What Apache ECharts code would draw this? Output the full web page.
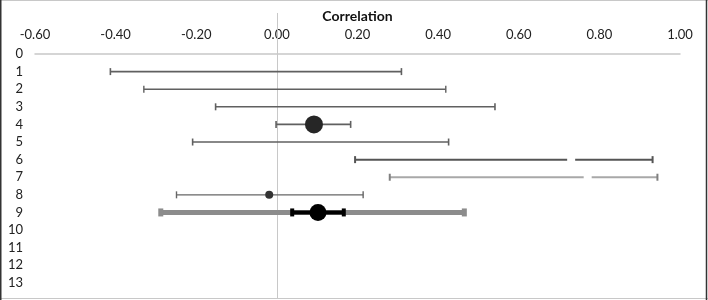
<!DOCTYPE html>
<html>
<head>
<meta charset="utf-8">
<script src="https://cdn.jsdelivr.net/npm/echarts@6/dist/echarts.min.js"></script>
<style>html,body{margin:0;padding:0;background:#fff;}#c{width:708px;height:300px;}</style>
</head>
<body>
<div id="c"></div>
<script>
// ---- data ----
var rowLabels = [0,1,2,3,4,5,6,7,8,9,10,11,12,13];
var rows   = [1, 2, 3, 4, 5, 6, 7, 8, 9];
var lower  = [-0.413, -0.330, -0.152, -0.002, -0.209, 0.194, 0.280, -0.249, -0.288];
var upper  = [0.309, 0.419, 0.541, 0.183, 0.426, 0.932, 0.944, 0.214, 0.465];
var innerRow = [9];
var innerLower = [0.038];
var innerUpper = [0.166];
var pointRows = [4, 8, 9];
var pointVals = [0.092, -0.019, 0.102];
var gapRows = [6, 7];
var gapVals = [0.730, 0.771];
var refLine = [[0, -2.33], [0, 13.86]];

// ---- styles ----
var barColor = ['#606060','#606060','#606060','#606060','#606060','#555555','#a8a8a8','#666666','#8c8c8c'];
var capColor = ['#606060','#606060','#606060','#606060','#606060','#555555','#808080','#666666','#8c8c8c'];
var barWidth = [1.6,1.4,1.6,1.6,1.6,2,2,1.4,5];
var capH     = [7,7,7,7,7,7,7,7,8];
var capW     = [1.6,1.4,1.6,1.6,1.6,2,2,1.4,5];
var innerColor = '#000000';
var pointSize = [18, 8, 17];
var pointColor = ['#262626', '#333333', '#000000'];

function errData(r, lo, hi){ return r.map(function(v,i){ return [lo[i], hi[i], v, i]; }); }

function makeRender(colors, capColors, widths, capHs, capWs){
  return function(params, api){
    var i = api.value(3);
    var p1 = api.coord([api.value(0), api.value(2)]);
    var p2 = api.coord([api.value(1), api.value(2)]);
    var h = capHs[i]/2, cw = capWs[i];
    return {type:'group', children:[
      {type:'line', shape:{x1:p1[0], y1:p1[1], x2:p2[0], y2:p2[1]}, style:{stroke:colors[i], lineWidth:widths[i]}},
      {type:'rect', shape:{x:p1[0]-cw/2, y:p1[1]-h, width:cw, height:h*2}, style:{fill:capColors[i]}},
      {type:'rect', shape:{x:p2[0]-cw/2, y:p2[1]-h, width:cw, height:h*2}, style:{fill:capColors[i]}}
    ]};
  };
}

var chart = echarts.init(document.getElementById('c'), null, {renderer:'canvas'});
var font = 'Lato, "Liberation Sans", sans-serif';
chart.setOption({
  animation:false,
  grid:{left:35, right:28, top:54, bottom:2, containLabel:false},
  xAxis:{
    type:'value', position:'top', min:-0.6, max:1.0, interval:0.2,
    axisLine:{show:true, onZero:false, lineStyle:{color:'#c8c8c8', width:1.5}},
    axisTick:{show:false}, splitLine:{show:false},
    axisLabel:{margin:13, fontSize:13, color:'#222', fontFamily:font,
      formatter:function(v){ return (Math.abs(v)<1e-9?0:v).toFixed(2); }}
  },
  yAxis:{
    type:'value', inverse:true, min:0, max:13.86,
    axisLine:{show:false}, axisTick:{show:false}, splitLine:{show:false},
    axisLabel:{customValues:rowLabels, fontSize:13, color:'#222', fontFamily:font, align:'right', margin:12,
      formatter:function(v){ return String(Math.round(v)); }}
  },
  graphic:[
    {type:'text', x:357.5, y:16, style:{text:'Correlation', font:'bold 14px '+font, fill:'#111', align:'center', verticalAlign:'middle'}},
    {type:'line', shape:{x1:0, y1:0.5, x2:708, y2:0.5}, style:{stroke:'#c8c8c8', lineWidth:1}},
    {type:'line', shape:{x1:0, y1:298.5, x2:708, y2:298.5}, style:{stroke:'#c8c8c8', lineWidth:1}},
    {type:'line', shape:{x1:0.75, y1:0, x2:0.75, y2:300}, style:{stroke:'#333', lineWidth:1.5}},
    {type:'line', shape:{x1:706.5, y1:0, x2:706.5, y2:300}, style:{stroke:'#333', lineWidth:1.5}}
  ],
  series:[
    {type:'custom', clip:false, silent:true, z:1,
      renderItem:function(params, api){
        var a = api.coord([refLine[0][0], refLine[0][1]]);
        var b = api.coord([refLine[1][0], refLine[1][1]]);
        return {type:'line', shape:{x1:Math.round(a[0])+0.5, y1:a[1], x2:Math.round(b[0])+0.5, y2:b[1]}, style:{stroke:'#c8c8c8', lineWidth:1}};
      },
      data:[[0, 0]]},
    {type:'custom', renderItem:makeRender(barColor, capColor, barWidth, capH, capW), data:errData(rows, lower, upper), encode:{x:[0,1], y:2}, z:2},
    {type:'custom', renderItem:makeRender([innerColor],[innerColor],[4],[8],[4]), data:errData(innerRow, innerLower, innerUpper), encode:{x:[0,1], y:2}, z:3},
    {type:'scatter', data:gapVals.map(function(v,i){ return [v, gapRows[i]]; }), symbol:'rect', symbolSize:[8,6],
      itemStyle:{color:'#ffffff', opacity:1}, z:4},
    {type:'scatter', data:pointVals.map(function(v,i){ return {value:[v, pointRows[i]], symbolSize:pointSize[i], itemStyle:{color:pointColor[i], opacity:1}}; }),
      symbol:'circle', z:5}
  ]
});
</script>
</body>
</html>
